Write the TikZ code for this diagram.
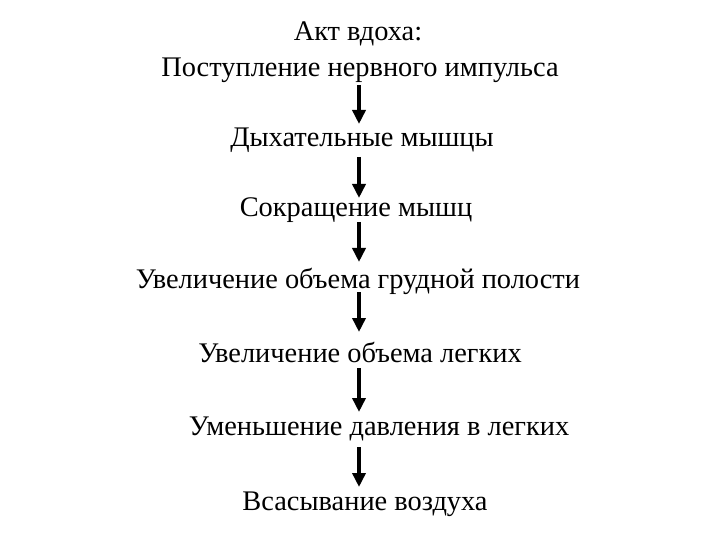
\documentclass[tikz,border=0pt]{standalone}
\usepackage{fontspec}
\setmainfont{Liberation Serif}
\usetikzlibrary{arrows.meta}
\tikzset{
  lbl/.style={anchor=base, inner sep=0pt, font=\fontsize{28.4bp}{32bp}\selectfont},
  flow/.style={line width=4bp, -{Triangle[width=13bp,length=14bp]}}
}
\begin{document}
\begin{tikzpicture}[x=1bp,y=-1bp]
\useasboundingbox[fill=white] (0,0) rectangle (720,540);
\node[lbl] (t0) at (358,41) {Акт вдоха:};
\node[lbl] (t1) at (360,77) {Поступление нервного импульса};
\node[lbl] (t2) at (362,147) {Дыхательные мышцы};
\node[lbl] (t3) at (356,217) {Сокращение мышц};
\node[lbl] (t4) at (358,288) {Увеличение объема грудной полости};
\node[lbl] (t5) at (360,362) {Увеличение объема легких};
\node[lbl] (t6) at (379,435) {Уменьшение давления в легких};
\node[lbl] (t7) at (365,510) {Всасывание воздуха};
\coordinate (a1s) at (359,85);  \coordinate (a1e) at (359,124);
\coordinate (a2s) at (359,157); \coordinate (a2e) at (359,198);
\coordinate (a3s) at (359,222); \coordinate (a3e) at (359,262);
\coordinate (a4s) at (359,292); \coordinate (a4e) at (359,332);
\coordinate (a5s) at (359,368); \coordinate (a5e) at (359,412);
\coordinate (a6s) at (359,447); \coordinate (a6e) at (359,487);
\draw[flow] (a1s) -- (a1e);
\draw[flow] (a2s) -- (a2e);
\draw[flow] (a3s) -- (a3e);
\draw[flow] (a4s) -- (a4e);
\draw[flow] (a5s) -- (a5e);
\draw[flow] (a6s) -- (a6e);
\end{tikzpicture}
\end{document}
